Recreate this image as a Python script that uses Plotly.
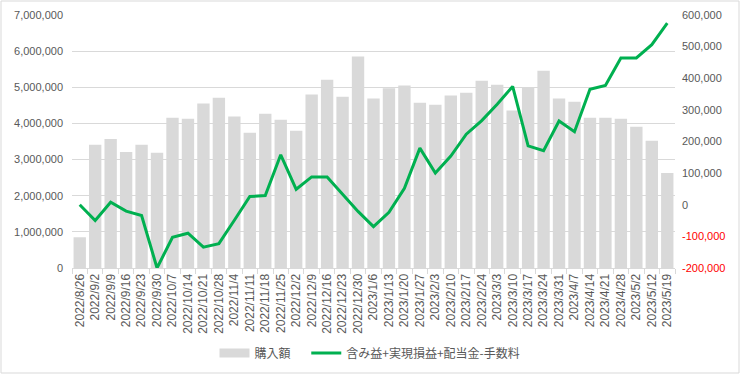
import plotly.graph_objects as go

dates = ["2022/8/26", "2022/9/2", "2022/9/9", "2022/9/16", "2022/9/23", "2022/9/30",
         "2022/10/7", "2022/10/14", "2022/10/21", "2022/10/28", "2022/11/4", "2022/11/11",
         "2022/11/18", "2022/11/25", "2022/12/2", "2022/12/9", "2022/12/16", "2022/12/23",
         "2022/12/30", "2023/1/6", "2023/1/13", "2023/1/20", "2023/1/27", "2023/2/3",
         "2023/2/10", "2023/2/17", "2023/2/24", "2023/3/3", "2023/3/10", "2023/3/17",
         "2023/3/24", "2023/3/31", "2023/4/7", "2023/4/14", "2023/4/21", "2023/4/28",
         "2023/5/2", "2023/5/12", "2023/5/19"]

purchase = [850000, 3410000, 3570000, 3210000, 3410000, 3190000,
            4160000, 4130000, 4550000, 4710000, 4190000, 3740000,
            4270000, 4100000, 3800000, 4800000, 5210000, 4740000,
            5850000, 4690000, 4970000, 5050000, 4570000, 4520000,
            4770000, 4850000, 5180000, 5070000, 4360000, 4980000,
            5460000, 4690000, 4600000, 4160000, 4160000, 4130000,
            3910000, 3520000, 2630000]

profit = [0, -50000, 8000, -20000, -34000, -200000,
          -103000, -90000, -134000, -123000, -49000, 26000,
          29000, 158000, 49000, 88000, 88000, 33000,
          -21000, -69000, -24000, 52000, 179000, 100000,
          154000, 223000, 266000, 318000, 374000, 186000,
          171000, 265000, 231000, 365000, 377000, 464000,
          464000, 506000, 574000]

left_ticks = [0, 1000000, 2000000, 3000000, 4000000, 5000000, 6000000, 7000000]
right_ticks = [-200000, -100000, 0, 100000, 200000, 300000, 400000, 500000, 600000]


def fmt_right(v):
    s = f"{v:,}"
    if v < 0:
        return f'<span style="color:#ff0000">{s}</span>'
    return s


fig = go.Figure()
fig.add_trace(go.Bar(
    x=dates, y=purchase, name="購入額",
    marker=dict(color="#d9d9d9", line=dict(width=0)),
    yaxis="y", showlegend=False,
))
# legend entry for the bars (wide grey box like the original)
fig.add_trace(go.Scatter(
    x=[None], y=[None], name="購入額" + "\u00a0" * 4, mode="lines",
    line=dict(color="#d9d9d9", width=9), yaxis="y",
))
fig.add_trace(go.Scatter(
    x=dates, y=profit, name="含み益+実現損益+配当金-手数料",
    mode="lines", line=dict(color="#00b050", width=3),
    yaxis="y2",
))

W, H = 740, 374
ml, mr, mt, mb = 72, 65, 15, 106
pw, ph = W - ml - mr, H - mt - mb

fig.update_layout(
    width=W, height=H,
    margin=dict(l=ml, r=mr, t=mt, b=mb, autoexpand=False),
    paper_bgcolor="white", plot_bgcolor="white",
    font=dict(family="Liberation Sans, Noto Sans CJK JP", color="#595959", size=11),
    bargap=0.2,
    showlegend=True,
    legend=dict(orientation="h", x=0.5, xanchor="center", xref="container",
                y=1 - 353 / H, yref="container", yanchor="middle",
                font=dict(size=12, family="Noto Sans CJK JP", color="#595959"),
                itemwidth=30, bgcolor="rgba(0,0,0,0)", tracegroupgap=0),
    xaxis=dict(
        type="category", tickangle=-90, tickfont=dict(size=12, color="#595959"),
        showline=True, linecolor="#d9d9d9", linewidth=1,
        ticks="outside", tickson="boundaries", ticklen=5, tickcolor="#d9d9d9",
        showgrid=False, automargin=False,
    ),
    yaxis=dict(
        range=[0, 7000000], tickvals=left_ticks, tickformat=",",
        showgrid=True, gridcolor="#d9d9d9", gridwidth=1,
        zeroline=False, showline=False, ticks="", automargin=False,
        tickfont=dict(size=11, color="#595959"), ticklabelstandoff=8,
    ),
    yaxis2=dict(
        range=[-200000, 600000], overlaying="y", side="right",
        tickvals=right_ticks, ticktext=[fmt_right(v) for v in right_ticks],
        showgrid=False, zeroline=False, showline=False, ticks="", automargin=False,
        tickfont=dict(size=11, color="#595959"), ticklabelstandoff=6,
    ),
    shapes=[dict(
        type="rect", xref="paper", yref="paper",
        x0=-(ml - 1) / pw, x1=(W - ml - 1) / pw,
        y0=-(mb - 1) / ph, y1=(H - mb - 1) / ph,
        line=dict(color="#d9d9d9", width=1), fillcolor="rgba(0,0,0,0)", layer="below",
    )],
)

fig.write_html("out.html", config={"displayModeBar": False},
               post_script="document.body.style.margin='0';")
